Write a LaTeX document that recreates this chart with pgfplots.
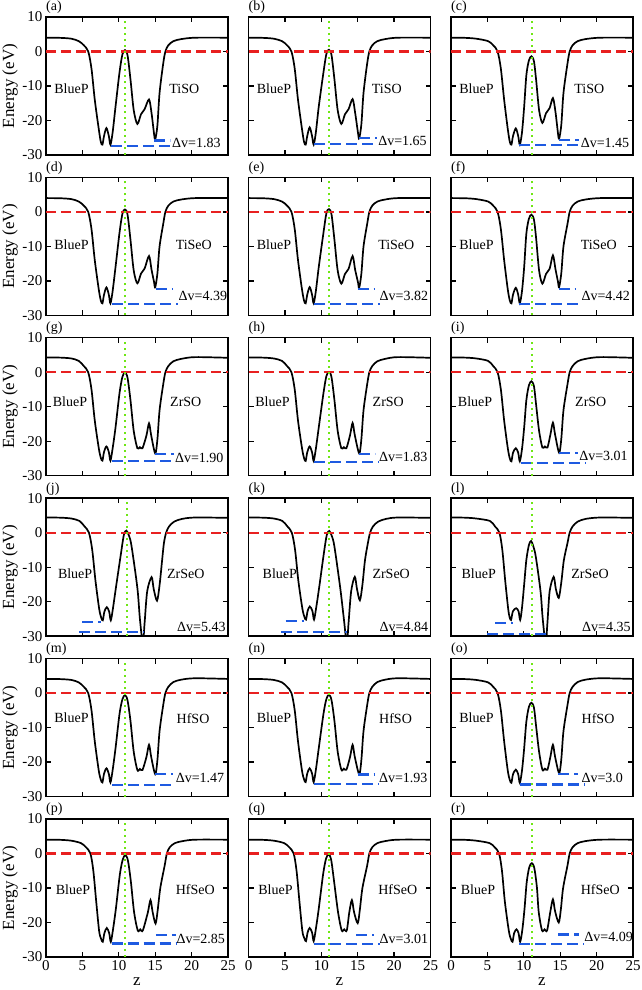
\documentclass[border=0pt]{standalone}
\usepackage{fontspec}
\setmainfont{Liberation Serif}
\usepackage{pgfplots}
\pgfplotsset{compat=1.18}
\usepgfplotslibrary{groupplots}
\usetikzlibrary{calc}
\definecolor{fred}{RGB}{232,32,32}
\definecolor{fgreen}{RGB}{110,230,20}
\definecolor{fblue}{RGB}{30,90,225}
\pgfplotsset{
 pot/.style={black, line width=1.7pt, smooth, tension=0.5, no marks},
 fermi/.style={fred, line width=2.2pt, dash pattern=on 10pt off 5pt, no marks},
 band/.style={fblue, line width=2.2pt, dash pattern=on 11pt off 5pt, no marks},
 iface/.style={fgreen, line width=2.2pt, dash pattern=on 2pt off 4pt, no marks},
}
\tikzset{lab/.style={font=\fontsize{14}{16}\selectfont, inner sep=0pt},
 plab/.style={font=\fontsize{14}{16}\selectfont, inner sep=0pt, anchor=south west, yshift=3pt}}
\newcommand{\deco}[7]{%
 \addplot[fermi] coordinates {(0,0) (25,0)};
 \addplot[band] coordinates {(#3,#2) (#4,#2)};
 \addplot[band] coordinates {(#6,#5) (#7,#5)};
 \addplot[iface] coordinates {(#1,-30) (#1,10)};
}
\begin{document}
\begin{tikzpicture}
\begin{groupplot}[group style={group size=3 by 6, horizontal sep=20.5pt, vertical sep=22.4pt, xticklabels at=edge bottom, yticklabels at=edge left},
 scale only axis, width=182pt, height=138pt, xmin=0, xmax=25, ymin=-30, ymax=10,
 xtick={0,5,10,15,20,25}, ytick={-30,-20,-10,0,10}, tick align=inside, major tick length=5pt,
 clip mode=individual,
 axis line style={line width=1.4pt}, every tick/.style={black, line width=1.3pt},
 tick label style={font=\fontsize{15}{17}\selectfont}, /pgf/number format/assume math mode=true,
 label style={font=\fontsize{17}{19}\selectfont},
 ylabel style={at={(axis description cs:-0.198,0.5)}, anchor=center},
 xlabel style={at={(axis description cs:0.5,-0.18)}, anchor=center}]
% (a)
\nextgroupplot[ylabel={Energy (eV)}]
\addplot[pot] coordinates {(0,4.0) (2,3.95) (3.5,3.7) (4.5,3.0) (5.2,1.8) (5.8,0) (6.25,-5) (6.7,-14) (7.25,-22.5) (7.53,-26.2) (7.75,-27) (7.97,-24.5) (8.3,-22.2) (8.63,-24.5) (8.85,-27) (9.15,-23.5) (9.55,-16) (10.1,-6) (10.5,-0.8) (10.85,0.4) (11.2,-1.1) (11.6,-8) (12.05,-17) (12.55,-21) (13.05,-18.2) (13.55,-16.7) (14.15,-13.9) (14.5,-17.9) (14.85,-24) (15.0,-25.5) (15.3,-21.5) (15.6,-12) (16.1,-3.5) (16.4,0) (16.8,1.8) (17.5,3.0) (18.6,3.6) (20.5,4.0) (25,4.0)};
\deco{10.9}{-25.8}{14.9}{17.1}{-27.4}{8.9}{17.1}
\node[lab] at (axis cs:3.5,-10.8) {BlueP};
\node[lab] at (axis cs:19,-10.8) {TiSO};
\node[lab, anchor=west] at (axis cs:17.3,-26.6) {Δv=1.83};
\node[plab] at (rel axis cs:0,1) {(a)};
% (b)
\nextgroupplot
\addplot[pot] coordinates {(0,4.0) (2,3.95) (3.5,3.7) (4.6,3.0) (5.3,1.8) (5.9,0) (6.35,-5) (6.8,-14) (7.35,-22.5) (7.63,-26.2) (7.85,-27) (8.07,-24.5) (8.4,-22) (8.73,-24.5) (8.95,-27) (9.25,-23.5) (9.65,-16) (10.3,-6) (10.7,-0.7) (11.05,0.5) (11.4,-1.0) (11.8,-8) (12.25,-17) (12.75,-21) (13.25,-18.2) (13.75,-16.7) (14.3,-13.8) (14.65,-17.8) (15.05,-23.7) (15.2,-25.2) (15.5,-21.2) (15.8,-12) (16.3,-3.5) (16.6,0) (17.0,1.8) (17.7,3.0) (18.8,3.6) (20.5,4.0) (25,4.0)};
\deco{11.05}{-25.1}{15.2}{17.6}{-26.8}{9.0}{17.6}
\node[lab] at (axis cs:3.5,-10.8) {BlueP};
\node[lab] at (axis cs:19,-10.8) {TiSO};
\node[lab, anchor=west] at (axis cs:17.8,-26) {Δv=1.65};
\node[plab] at (rel axis cs:0,1) {(b)};
% (c)
\nextgroupplot
\addplot[pot] coordinates {(0,4.0) (2,3.95) (3.5,3.7) (5.1,3.0) (5.8,1.8) (6.4,0) (6.85,-5) (7.3,-14) (7.8,-22.5) (8.08,-26.2) (8.3,-27) (8.52,-24.5) (8.9,-22.3) (9.23,-24.5) (9.45,-27) (9.75,-23.5) (10.05,-16) (10.35,-6.9) (10.7,-2.6) (11.05,-1.4) (11.4,-2.9) (11.7,-8.4) (12.1,-17) (12.55,-20.7) (13.05,-17.9) (13.55,-16.4) (14.0,-13.5) (14.35,-17.5) (14.7,-23.8) (14.85,-25.3) (15.15,-21.3) (15.45,-12) (16.0,-3.5) (16.3,0) (16.7,1.8) (17.4,3.0) (18.5,3.6) (20.5,4.0) (25,4.0)};
\deco{11.15}{-25.6}{14.9}{17.6}{-27.2}{9.4}{17.6}
\node[lab] at (axis cs:3.5,-10.8) {BlueP};
\node[lab] at (axis cs:19,-10.8) {TiSO};
\node[lab, anchor=west] at (axis cs:17.8,-26.4) {Δv=1.45};
\node[plab] at (rel axis cs:0,1) {(c)};
% (d)
\nextgroupplot[ylabel={Energy (eV)}]
\addplot[pot] coordinates {(0,4.0) (2,3.95) (3.5,3.7) (4.5,3.0) (5.2,1.8) (5.8,0) (6.25,-5) (6.7,-14) (7.25,-22.5) (7.53,-25.7) (7.75,-26.5) (7.97,-24) (8.3,-21.9) (8.63,-24) (8.85,-26.5) (9.15,-23) (9.55,-16) (10.1,-6) (10.5,-0.5) (10.85,0.7) (11.2,-0.8) (11.6,-8) (12.05,-17) (12.55,-20.7) (13.05,-17.9) (13.55,-16.4) (14.15,-12.8) (14.5,-16.8) (14.85,-20.4) (15.0,-21.9) (15.3,-17.9) (15.6,-10) (16.1,-3.5) (16.4,0) (16.8,1.8) (17.5,3.0) (18.6,3.6) (20.5,4.0) (25,4.0)};
\deco{10.9}{-22.4}{15.1}{17.5}{-26.7}{9.1}{18.2}
\node[lab] at (axis cs:3.5,-9.5) {BlueP};
\node[lab] at (axis cs:20.3,-9.5) {TiSeO};
\node[lab, anchor=west] at (axis cs:18.2,-24.5) {Δv=4.39};
\node[plab] at (rel axis cs:0,1) {(d)};
% (e)
\nextgroupplot
\addplot[pot] coordinates {(0,4.0) (2,3.95) (3.5,3.7) (4.6,3.0) (5.3,1.8) (5.9,0) (6.35,-5) (6.8,-14) (7.35,-22.5) (7.63,-25.7) (7.85,-26.5) (8.07,-24) (8.4,-21.8) (8.73,-24) (8.95,-26.5) (9.25,-23) (9.65,-16) (10.3,-6) (10.7,-0.4) (11.05,0.8) (11.4,-0.7) (11.8,-8) (12.25,-17) (12.75,-20.8) (13.25,-18) (13.75,-16.5) (14.3,-12.8) (14.65,-16.8) (15.05,-20.5) (15.2,-22) (15.5,-18) (15.8,-10) (16.3,-3.5) (16.6,0) (17.0,1.8) (17.7,3.0) (18.8,3.6) (20.5,4.0) (25,4.0)};
\deco{11.05}{-22.3}{15.0}{17.3}{-26.6}{9.0}{18.0}
\node[lab] at (axis cs:3.5,-9.5) {BlueP};
\node[lab] at (axis cs:20.3,-9.5) {TiSeO};
\node[lab, anchor=west] at (axis cs:18.0,-24.5) {Δv=3.82};
\node[plab] at (rel axis cs:0,1) {(e)};
% (f)
\nextgroupplot
\addplot[pot] coordinates {(0,4.0) (2,3.95) (3.5,3.7) (5.1,3.0) (5.8,1.8) (6.4,0) (6.85,-5) (7.3,-14) (7.8,-22.5) (8.08,-25.7) (8.3,-26.5) (8.52,-24) (8.9,-22) (9.23,-24) (9.45,-26.5) (9.75,-23) (10.05,-16) (10.35,-6.3) (10.7,-2) (11.05,-0.8) (11.4,-2.3) (11.7,-7.8) (12.1,-17) (12.55,-20.8) (13.05,-18) (13.55,-16.5) (14.0,-12.6) (14.35,-16.6) (14.7,-20.3) (14.85,-21.8) (15.15,-17.8) (15.45,-10) (16.0,-3.5) (16.3,0) (16.7,1.8) (17.4,3.0) (18.5,3.6) (20.5,4.0) (25,4.0)};
\deco{11.15}{-22.3}{14.8}{17.2}{-26.6}{9.4}{17.9}
\node[lab] at (axis cs:3.5,-9.5) {BlueP};
\node[lab] at (axis cs:20.3,-9.5) {TiSeO};
\node[lab, anchor=west] at (axis cs:17.9,-24.5) {Δv=4.42};
\node[plab] at (rel axis cs:0,1) {(f)};
% (g)
\nextgroupplot[ylabel={Energy (eV)}]
\addplot[pot] coordinates {(0,4.3) (2,4.25) (3.5,4.0) (4.5,3.3) (5.2,1.8) (5.8,0) (6.25,-5) (6.7,-14) (7.25,-22) (7.53,-24.8) (7.75,-25.6) (7.97,-23.1) (8.3,-21.5) (8.63,-23.1) (8.85,-25.6) (9.15,-22.1) (9.55,-16) (10.1,-6) (10.5,-1.3) (10.85,-0.1) (11.2,-1.6) (11.6,-8) (12.05,-17) (12.55,-22) (12.9,-21.7) (13.25,-22) (13.8,-18.3) (14.15,-14.8) (14.45,-18.3) (15.0,-23.5) (15.3,-19.5) (15.6,-11) (16.1,-3.5) (16.4,0) (16.8,1.8) (17.5,3.2) (18.6,3.9) (20.5,4.4) (25,4.2)};
\deco{10.8}{-23.6}{15.0}{17.6}{-25.7}{9.1}{17.6}
\node[lab] at (axis cs:3.3,-8.6) {BlueP};
\node[lab] at (axis cs:19.2,-8.6) {ZrSO};
\node[lab, anchor=west] at (axis cs:17.7,-24.7) {Δv=1.90};
\node[plab] at (rel axis cs:0,1) {(g)};
% (h)
\nextgroupplot
\addplot[pot] coordinates {(0,4.3) (2,4.25) (3.5,4.0) (4.6,3.3) (5.3,1.8) (5.9,0) (6.35,-5) (6.8,-14) (7.35,-22) (7.63,-24.9) (7.85,-25.7) (8.07,-23.2) (8.4,-21.5) (8.73,-23.2) (8.95,-25.7) (9.25,-22.2) (9.65,-16) (10.3,-6) (10.7,-1.1) (11.05,0.1) (11.4,-1.4) (11.8,-8) (12.25,-17) (12.75,-22) (13.1,-21.7) (13.45,-22) (13.95,-18.2) (14.3,-14.7) (14.6,-18.2) (15.2,-23.5) (15.5,-19.5) (15.8,-11) (16.3,-3.5) (16.6,0) (17.0,1.8) (17.7,3.2) (18.8,3.9) (20.5,4.4) (25,4.2)};
\deco{11.05}{-23.8}{15.2}{17.4}{-26.1}{9.0}{17.9}
\node[lab] at (axis cs:3.3,-8.6) {BlueP};
\node[lab] at (axis cs:19.2,-8.6) {ZrSO};
\node[lab, anchor=west] at (axis cs:17.9,-24.6) {Δv=1.83};
\node[plab] at (rel axis cs:0,1) {(h)};
% (i)
\nextgroupplot
\addplot[pot] coordinates {(0,4.3) (2,4.25) (3.5,4.0) (5.1,3.3) (5.8,1.8) (6.4,0) (6.85,-5) (7.3,-14) (7.8,-22) (8.08,-25) (8.3,-25.8) (8.52,-23.3) (8.9,-22) (9.23,-23.3) (9.45,-25.8) (9.75,-22.3) (10.05,-16) (10.35,-8.1) (10.7,-3.8) (11.05,-2.6) (11.4,-4.1) (11.7,-9.6) (12.1,-17) (12.55,-21.8) (12.9,-21.5) (13.25,-21.8) (13.65,-18.1) (14.0,-14.6) (14.3,-18.1) (14.85,-23.3) (15.15,-19.3) (15.45,-11) (16.0,-3.5) (16.3,0) (16.7,1.8) (17.4,3.2) (18.5,3.9) (20.5,4.4) (25,4.2)};
\deco{11.15}{-23.3}{14.9}{17.4}{-26.2}{9.6}{18.5}
\node[lab] at (axis cs:3.3,-8.6) {BlueP};
\node[lab] at (axis cs:19.2,-8.6) {ZrSO};
\node[lab, anchor=west] at (axis cs:17.6,-24.3) {Δv=3.01};
\node[plab] at (rel axis cs:0,1) {(i)};
% (j)
\nextgroupplot[ylabel={Energy (eV)}]
\addplot[pot] coordinates {(0,4.4) (2,4.35) (3.5,4.1) (4.6,3.4) (5.3,1.8) (5.9,0) (6.35,-5) (6.8,-14) (7.3,-22) (7.58,-24.6) (7.8,-25.4) (8.02,-22.9) (8.35,-21.6) (8.68,-22.9) (8.9,-25.4) (9.2,-21.9) (9.6,-16) (10.3,-6) (10.7,-0.6) (11.05,0.6) (11.4,-0.9) (11.75,-3.9) (12.55,-16) (12.9,-25) (13.3,-32) (13.55,-26) (13.9,-17) (14.5,-12.9) (14.8,-16.4) (15.25,-19.7) (15.6,-15.2) (15.95,-8) (16.2,-3) (16.5,0) (16.9,1.8) (17.6,3.2) (18.7,4.0) (20.5,4.4) (25,4.3)};
\deco{11.1}{-25.8}{5.0}{7.6}{-28.8}{4.6}{13.5}
\node[lab] at (axis cs:4.0,-12) {BlueP};
\node[lab] at (axis cs:19.2,-12) {ZrSeO};
\node[lab, anchor=east] at (axis cs:24.7,-27.2) {Δv=5.43};
\node[plab] at (rel axis cs:0,1) {(j)};
% (k)
\nextgroupplot
\addplot[pot] coordinates {(0,4.4) (2,4.35) (3.5,4.1) (4.65,3.4) (5.35,1.8) (5.95,0) (6.4,-5) (6.85,-14) (7.4,-22) (7.68,-24.4) (7.9,-25.2) (8.12,-22.7) (8.42,-21.4) (8.78,-22.7) (9.0,-25.2) (9.3,-21.7) (9.7,-16) (10.35,-6) (10.75,-0.7) (11.1,0.5) (11.45,-1.0) (11.8,-4.0) (12.6,-16) (13.1,-25) (13.5,-32) (13.75,-26) (14.1,-17) (14.6,-12.8) (14.9,-16.3) (15.3,-19.6) (15.65,-15.1) (16.0,-8) (16.4,-3) (16.7,0) (17.1,1.8) (17.8,3.2) (18.9,4.0) (20.5,4.4) (25,4.3)};
\deco{11.1}{-25.6}{5.1}{7.6}{-28.7}{4.5}{13.5}
\node[lab] at (axis cs:4.3,-12) {BlueP};
\node[lab] at (axis cs:19.6,-12) {ZrSeO};
\node[lab, anchor=east] at (axis cs:24.7,-27.2) {Δv=4.84};
\node[plab] at (rel axis cs:0,1) {(k)};
% (l)
\nextgroupplot
\addplot[pot] coordinates {(0,4.4) (2,4.35) (3.5,4.1) (5.35,3.4) (6.05,1.8) (6.65,0) (7.05,-5) (7.45,-14) (7.85,-22) (8.05,-24.5) (8.25,-25.3) (8.5,-22.8) (8.95,-21.9) (9.28,-22.8) (9.5,-25.3) (9.75,-21.8) (10.05,-15) (10.35,-7.9) (10.7,-3.6) (11.0,-2.4) (11.3,-3.9) (11.65,-7) (12.3,-17) (12.6,-25) (13.0,-32) (13.25,-26) (13.55,-17) (14.1,-12.8) (14.4,-16.3) (14.8,-18.9) (15.15,-14.4) (15.5,-8) (16.0,-3) (16.3,0) (16.7,1.8) (17.4,3.2) (18.5,4.0) (20.5,4.4) (25,4.3)};
\deco{11.15}{-26.1}{6.1}{8.5}{-29.3}{5.0}{13.4}
\node[lab] at (axis cs:3.8,-12) {BlueP};
\node[lab] at (axis cs:19.1,-12) {ZrSeO};
\node[lab, anchor=east] at (axis cs:24.7,-27.2) {Δv=4.35};
\node[plab] at (rel axis cs:0,1) {(l)};
% (m)
\nextgroupplot[ylabel={Energy (eV)}]
\addplot[pot] coordinates {(0,4.1) (2,4.05) (3.5,3.8) (4.5,3.1) (5.2,1.8) (5.8,0) (6.25,-5) (6.7,-14) (7.25,-22.5) (7.53,-25.1) (7.75,-25.9) (7.97,-23.4) (8.3,-21.8) (8.63,-23.4) (8.85,-25.9) (9.15,-22.4) (9.55,-16) (10.1,-6) (10.5,-1.8) (10.85,-0.6) (11.2,-2.1) (11.6,-8) (12.05,-17) (12.55,-22.3) (12.9,-22) (13.25,-22.3) (13.8,-18.5) (14.15,-15) (14.45,-18.5) (15.0,-23.5) (15.3,-19.5) (15.6,-11) (16.1,-3.5) (16.4,0) (16.8,1.8) (17.5,3.2) (18.6,3.9) (20.5,4.3) (25,4.1)};
\deco{10.9}{-23.5}{15.0}{17.4}{-26.6}{9.1}{17.6}
\node[lab] at (axis cs:3.5,-7) {BlueP};
\node[lab] at (axis cs:20.2,-7.3) {HfSO};
\node[lab, anchor=west] at (axis cs:17.8,-24.7) {Δv=1.47};
\node[plab] at (rel axis cs:0,1) {(m)};
% (n)
\nextgroupplot
\addplot[pot] coordinates {(0,4.1) (2,4.05) (3.5,3.8) (4.6,3.1) (5.3,1.8) (5.9,0) (6.35,-5) (6.8,-14) (7.35,-22.5) (7.63,-25) (7.85,-25.8) (8.07,-23.3) (8.4,-21.8) (8.73,-23.3) (8.95,-25.8) (9.25,-22.3) (9.65,-16) (10.3,-6) (10.7,-1.7) (11.05,-0.5) (11.4,-2.0) (11.8,-8) (12.25,-17) (12.75,-22.2) (13.1,-21.9) (13.45,-22.2) (13.95,-18.5) (14.3,-15) (14.6,-18.5) (15.2,-23.5) (15.5,-19.5) (15.8,-11) (16.3,-3.5) (16.6,0) (17.0,1.8) (17.7,3.2) (18.8,3.9) (20.5,4.3) (25,4.1)};
\deco{11.05}{-23.6}{15.0}{17.3}{-26.4}{9.0}{17.9}
\node[lab] at (axis cs:3.5,-7) {BlueP};
\node[lab] at (axis cs:20.2,-7.3) {HfSO};
\node[lab, anchor=west] at (axis cs:17.9,-24.5) {Δv=1.93};
\node[plab] at (rel axis cs:0,1) {(n)};
% (o)
\nextgroupplot
\addplot[pot] coordinates {(0,4.1) (2,4.05) (3.5,3.8) (5.1,3.1) (5.8,1.8) (6.4,0) (6.85,-5) (7.3,-14) (7.8,-22.5) (8.08,-25.2) (8.3,-26) (8.52,-23.5) (8.9,-22.2) (9.23,-23.5) (9.45,-26) (9.75,-22.5) (10.05,-16) (10.35,-8.3) (10.7,-4.0) (11.05,-2.8) (11.4,-4.3) (11.7,-9.8) (12.1,-17) (12.55,-22.2) (12.9,-21.9) (13.25,-22.2) (13.65,-18.5) (14.0,-15) (14.3,-18.5) (14.85,-23.2) (15.15,-19.2) (15.45,-11) (16.0,-3.5) (16.3,0) (16.7,1.8) (17.4,3.2) (18.5,3.9) (20.5,4.3) (25,4.1)};
\deco{11.15}{-23.4}{14.7}{17.5}{-26.5}{9.5}{18.3}
\node[lab] at (axis cs:3.5,-7) {BlueP};
\node[lab] at (axis cs:20.2,-7.3) {HfSO};
\node[lab, anchor=west] at (axis cs:17.9,-24.5) {Δv=3.0};
\node[plab] at (rel axis cs:0,1) {(o)};
% (p)
\nextgroupplot[ylabel={Energy (eV)}, xlabel={z}]
\addplot[pot] coordinates {(0,4.0) (2,3.95) (3.5,3.7) (4.8,3.0) (5.5,1.8) (6.1,0) (6.5,-5) (6.9,-14) (7.3,-22.5) (7.58,-24.8) (7.8,-25.6) (8.02,-23.1) (8.35,-21.6) (8.68,-23.1) (8.9,-25.6) (9.2,-22.1) (9.6,-16) (10.15,-6) (10.55,-1.7) (10.9,-0.5) (11.25,-2.0) (11.65,-8) (12.1,-17) (12.6,-22.3) (12.95,-22) (13.3,-22.3) (14.0,-17) (14.35,-13.5) (14.65,-17) (15.05,-20.3) (15.35,-16.3) (15.7,-10) (16.3,-3.5) (16.6,0) (17.0,1.8) (17.7,3.0) (18.8,3.6) (20.5,4.0) (25,4.0)};
\deco{10.9}{-23.7}{15.1}{17.8}{-26.1}{9.0}{17.8}
\node[lab] at (axis cs:3.7,-10.5) {BlueP};
\node[lab] at (axis cs:20.5,-10.5) {HfSeO};
\node[lab, anchor=west] at (axis cs:17.9,-24.7) {Δv=2.85};
\node[plab] at (rel axis cs:0,1) {(p)};
% (q)
\nextgroupplot[xlabel={z}]
\addplot[pot] coordinates {(0,4.0) (2,3.95) (3.5,3.7) (4.9,3.0) (5.6,1.8) (6.2,0) (6.6,-5) (7.0,-14) (7.4,-22.5) (7.68,-24.6) (7.9,-25.4) (8.12,-22.9) (8.4,-21.6) (8.73,-22.9) (8.95,-25.4) (9.25,-21.9) (9.65,-16) (10.25,-6) (10.65,-1.5) (11.0,-0.3) (11.35,-1.8) (11.75,-8) (12.3,-17) (12.8,-22.3) (13.15,-22) (13.5,-22.3) (13.85,-17) (14.2,-13.5) (14.5,-17) (15.0,-20.2) (15.3,-16.2) (15.65,-10) (16.3,-3.5) (16.6,0) (17.0,1.8) (17.7,3.0) (18.8,3.6) (20.5,4.0) (25,4.0)};
\deco{11.05}{-23.6}{14.8}{17.2}{-26.3}{9.0}{18.0}
\node[lab] at (axis cs:3.7,-10.5) {BlueP};
\node[lab] at (axis cs:20.5,-10.5) {HfSeO};
\node[lab, anchor=west] at (axis cs:18.0,-24.9) {Δv=3.01};
\node[plab] at (rel axis cs:0,1) {(q)};
% (r)
\nextgroupplot[xlabel={z}]
\addplot[pot] coordinates {(0,4.0) (2,3.95) (3.5,3.7) (5.3,3.0) (6.0,1.8) (6.6,0) (7.0,-5) (7.4,-14) (7.95,-22.5) (8.23,-24.8) (8.45,-25.6) (8.67,-23.1) (9.0,-22) (9.28,-23.1) (9.5,-25.6) (9.8,-22.1) (10.1,-16) (10.4,-8.3) (10.75,-4.0) (11.1,-2.8) (11.45,-4.3) (11.8,-9.8) (12.05,-17) (12.5,-22.3) (12.85,-22) (13.2,-22.3) (13.65,-16.8) (14.0,-13.3) (14.3,-16.8) (14.8,-20) (15.1,-16) (15.4,-10) (16.0,-3.5) (16.3,0) (16.7,1.8) (17.4,3.0) (18.5,3.6) (20.5,4.0) (25,4.0)};
\deco{11.15}{-23.5}{14.7}{17.6}{-26.2}{9.4}{18.3}
\node[lab] at (axis cs:3.7,-10.5) {BlueP};
\node[lab] at (axis cs:20.5,-10.5) {HfSeO};
\node[lab, anchor=west] at (axis cs:18.3,-24.3) {Δv=4.09};
\node[plab] at (rel axis cs:0,1) {(r)};
\end{groupplot}
\pgfresetboundingbox
\path ($(group c1r1.north west)+(-46pt,17pt)$) rectangle ($(group c1r1.north west)+(596pt,-973pt)$);
\end{tikzpicture}
\end{document}
